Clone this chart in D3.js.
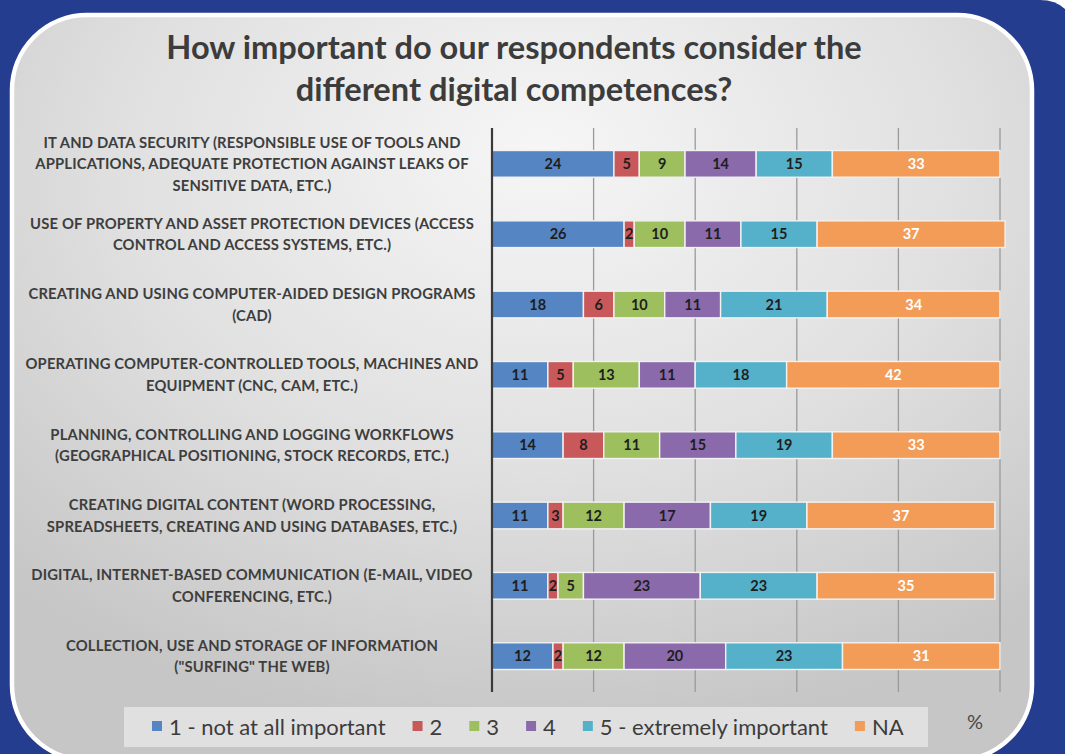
<!DOCTYPE html>
<html>
<head>
<meta charset="utf-8">
<script src="https://cdn.jsdelivr.net/npm/d3@7"></script>
<style>
  html, body { margin: 0; padding: 0; background: #ffffff; }
  svg { display: block; }
  text { font-family: Lato, "Open Sans", sans-serif; }
</style>
</head>
<body>
<svg id="chart" width="1065" height="754"></svg>
<script>
// Competence categories (top to bottom), line breaks marked with "\n"
const categories = [
  "IT AND DATA SECURITY (RESPONSIBLE USE OF TOOLS AND\nAPPLICATIONS, ADEQUATE PROTECTION AGAINST LEAKS OF\nSENSITIVE DATA, ETC.)",
  "USE OF PROPERTY AND ASSET PROTECTION DEVICES (ACCESS\nCONTROL AND ACCESS SYSTEMS, ETC.)",
  "CREATING AND USING COMPUTER-AIDED DESIGN PROGRAMS\n(CAD)",
  "OPERATING COMPUTER-CONTROLLED TOOLS, MACHINES AND\nEQUIPMENT (CNC, CAM, ETC.)",
  "PLANNING, CONTROLLING AND LOGGING WORKFLOWS\n(GEOGRAPHICAL POSITIONING, STOCK RECORDS, ETC.)",
  "CREATING DIGITAL CONTENT (WORD PROCESSING,\nSPREADSHEETS, CREATING AND USING DATABASES, ETC.)",
  "DIGITAL, INTERNET-BASED COMMUNICATION (E-MAIL, VIDEO\nCONFERENCING, ETC.)",
  "COLLECTION, USE AND STORAGE OF INFORMATION\n(\"SURFING\" THE WEB)"
];

const seriesNames = ["1 - not at all important", "2", "3", "4", "5 - extremely important", "NA"];

// Share of respondents (%) per rating, one array per rating, in category order
const rating1 = [24, 26, 18, 11, 14, 11, 11, 12];
const rating2 = [5, 2, 6, 5, 8, 3, 2, 2];
const rating3 = [9, 10, 10, 13, 11, 12, 5, 12];
const rating4 = [14, 11, 11, 11, 15, 17, 23, 20];
const rating5 = [15, 15, 21, 18, 19, 19, 23, 23];
const ratingNA = [33, 37, 34, 42, 33, 37, 35, 31];

const xTicks = [0, 20, 40, 60, 80, 100];

const colors = ["#5585c2", "#c9585a", "#9dbf5e", "#8a6aab", "#55b0c9", "#f39c58"];
const labelColors = ["#1e1e1e", "#1e1e1e", "#1e1e1e", "#1e1e1e", "#1e1e1e", "#ffffff"];

const seriesValues = [rating1, rating2, rating3, rating4, rating5, ratingNA];
const rows = categories.map((c, i) => {
  const r = { category: c };
  seriesNames.forEach((s, j) => { r[s] = seriesValues[j][i]; });
  return r;
});

const svg = d3.select("#chart");
const W = 1065, H = 754;

// ---- backdrop: blue frame with rounded card ----
const defs = svg.append("defs");
const grad = defs.append("radialGradient")
  .attr("id", "cardFill")
  .attr("cx", "52%").attr("cy", "22%").attr("r", "75%")
  .attr("fx", "52%").attr("fy", "18%");
grad.append("stop").attr("offset", "0%").attr("stop-color", "#f6f6f6");
grad.append("stop").attr("offset", "55%").attr("stop-color", "#e0e0e0");
grad.append("stop").attr("offset", "100%").attr("stop-color", "#c6c6c6");

svg.append("rect").attr("width", W).attr("height", H).attr("fill", "#ffffff");
svg.append("path")
  .attr("d", `M0,0 H1040 Q1080,0 1080,60 V${H} H0 Z`)
  .attr("fill", "#253d8e");

svg.append("rect")
  .attr("x", 12).attr("y", 15)
  .attr("width", 1020).attr("height", 745)
  .attr("rx", 75).attr("ry", 75)
  .attr("fill", "url(#cardFill)")
  .attr("stroke", "#ffffff").attr("stroke-width", 4.5);

// ---- title ----
const title = svg.append("text")
  .attr("text-anchor", "middle")
  .attr("fill", "#3c3c3c")
  .attr("font-size", 32.6)
  .attr("font-weight", 700);
title.append("tspan").attr("x", 514).attr("y", 59).text("How important do our respondents consider the");
title.append("tspan").attr("x", 514).attr("y", 101).text("different digital competences?");

// ---- scales ----
const x = d3.scaleLinear().domain([0, 100]).range([492, 1000]);
const y = d3.scaleBand().domain(categories).range([128, 692])
  .paddingInner(0.62).paddingOuter(0.32);

// gridlines
svg.append("g")
  .selectAll("line")
  .data(xTicks.slice(1))
  .join("line")
  .attr("x1", d => x(d)).attr("x2", d => x(d))
  .attr("y1", 128).attr("y2", 692)
  .attr("stroke", "#9a9a9a").attr("stroke-width", 1.3);

// stacked bars
const stack = d3.stack().keys(seriesNames)(rows);

const layers = svg.append("g")
  .selectAll("g")
  .data(stack)
  .join("g")
  .attr("fill", (d, i) => colors[i]);

layers.selectAll("rect")
  .data(d => d)
  .join("rect")
  .attr("x", d => x(d[0]))
  .attr("y", d => y(d.data.category))
  .attr("width", d => x(d[1]) - x(d[0]))
  .attr("height", y.bandwidth())
  .attr("stroke", "#f2f2f2")
  .attr("stroke-width", 1.4);

// value labels
svg.append("g")
  .selectAll("g")
  .data(stack)
  .join("g")
  .attr("fill", (d, i) => labelColors[i])
  .selectAll("text")
  .data(d => d)
  .join("text")
  .attr("x", d => (x(d[0]) + x(d[1])) / 2)
  .attr("y", d => y(d.data.category) + y.bandwidth() / 2)
  .attr("dy", "0.36em")
  .attr("text-anchor", "middle")
  .attr("font-size", 14.5)
  .attr("font-weight", 700)
  .text(d => d[1] - d[0]);

// left axis line
svg.append("line")
  .attr("x1", 492).attr("x2", 492)
  .attr("y1", 128).attr("y2", 692)
  .attr("stroke", "#3a3a3a").attr("stroke-width", 2.2);

// category labels
const catG = svg.append("g");
categories.forEach(c => {
  const lines = c.split("\n");
  const cy = y(c) + y.bandwidth() / 2;
  const lh = 21.5;
  const t = catG.append("text")
    .attr("text-anchor", "middle")
    .attr("fill", "#3e3e3e")
    .attr("font-size", 14.8)
    .attr("letter-spacing", 0.15)
    .attr("font-weight", 700);
  lines.forEach((ln, k) => {
    t.append("tspan")
      .attr("x", 252)
      .attr("y", cy + (k - (lines.length - 1) / 2) * lh)
      .attr("dy", "0.36em")
      .text(ln);
  });
});

// ---- legend ----
svg.append("rect")
  .attr("x", 124).attr("y", 707)
  .attr("width", 804).attr("height", 40)
  .attr("fill", "#e4e4e4").attr("opacity", 0.85);

const legend = svg.append("g");
let lx = 152;
seriesNames.forEach((s, i) => {
  legend.append("rect")
    .attr("x", lx).attr("y", 721)
    .attr("width", 10).attr("height", 10)
    .attr("fill", colors[i]);
  const t = legend.append("text")
    .attr("x", lx + 17).attr("y", 727)
    .attr("dy", "0.36em")
    .attr("font-size", 22)
    .attr("fill", "#3c3c3c")
    .text(s);
  lx += 17 + t.node().getComputedTextLength() + 27;
});

svg.append("text")
  .attr("x", 975).attr("y", 722)
  .attr("dy", "0.36em")
  .attr("text-anchor", "middle")
  .attr("font-size", 20)
  .attr("fill", "#4a4a4a")
  .text("%");
</script>
</body>
</html>
